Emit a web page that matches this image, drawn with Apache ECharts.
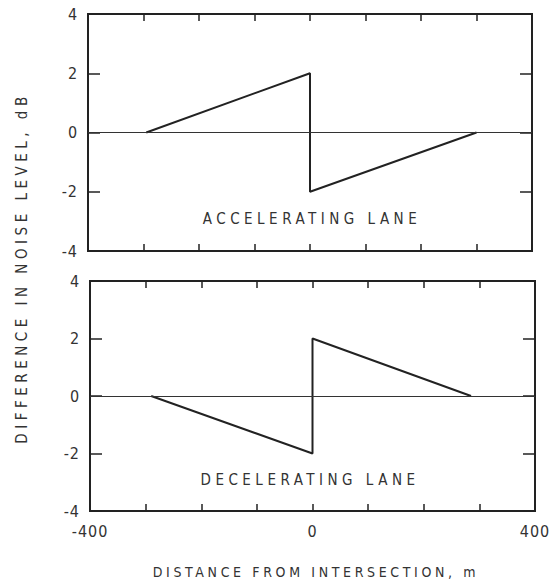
<!DOCTYPE html>
<html>
<head>
<meta charset="utf-8">
<script src="https://cdn.jsdelivr.net/npm/echarts@6/dist/echarts.min.js"></script>
<style>
  html, body { margin: 0; padding: 0; background: #fff; }
  #main { width: 552px; height: 586px; }
  /* the original lettering is widely tracked */
  #main text { letter-spacing: 0.06em; }
  #main text[style*="15px"] { letter-spacing: 0.3em; }
  #main text[style*="14px"] { letter-spacing: 0.26em; }
</style>
</head>
<body>
<div id="main"></div>
<script>
// data
var accelX = [-295, 0, 0, 300];
var accelY = [0, 2, -2, 0];
var decelX = [-290, 0, 0, 285];
var decelY = [0, -2, 2, 0];
var xTicks = [-400, 0, 400];
var yTicks = [-4, -2, 0, 2, 4];

function zip(xs, ys) {
  var out = [];
  for (var i = 0; i < xs.length; i++) {
    out.push([xs[i], ys[i]]);
  }
  return out;
}

var ink = '#222';
var font = '"DejaVu Sans Condensed", "DejaVu Sans", sans-serif';

function xAxis(grid, pos, labels) {
  return {
    type: 'value', gridIndex: grid, position: pos,
    min: -400, max: 400, interval: 100,
    axisLine: { show: false, onZero: false },
    axisTick: { inside: true, length: 7, lineStyle: { color: ink, width: 1.5 } },
    splitLine: { show: false },
    axisLabel: {
      show: labels, margin: 12, color: '#333', fontSize: 16, fontFamily: font,
      formatter: function (v) { return xTicks.indexOf(v) >= 0 ? String(v) : ''; }
    }
  };
}

function yAxis(grid, pos, labels) {
  return {
    type: 'value', gridIndex: grid, position: pos,
    min: -4, max: 4, interval: 2,
    axisLine: { show: false, onZero: false },
    axisTick: { inside: true, length: 12, lineStyle: { color: ink, width: 1.5 } },
    splitLine: { show: false },
    axisLabel: {
      show: labels, margin: 10, color: '#333', fontSize: 16, fontFamily: font,
      formatter: function (v) { return yTicks.indexOf(v) >= 0 ? String(v) : ''; }
    }
  };
}

function lane(xs, ys, idx) {
  return {
    type: 'line', xAxisIndex: idx * 2, yAxisIndex: idx * 2,
    data: zip(xs, ys),
    showSymbol: false,
    lineStyle: { color: ink, width: 2 },
    markLine: {
      silent: true, symbol: ['none', 'none'], label: { show: false },
      lineStyle: { color: '#333', width: 1, type: 'solid' },
      data: [{ yAxis: 0 }]
    }
  };
}

var myChart = echarts.init(document.getElementById('main'), null, { renderer: 'svg' });

var option = {
  backgroundColor: '#fff',
  animation: false,
  grid: [
    { left: 88, right: 20, top: 14, height: 237, show: true, borderColor: ink, borderWidth: 2 },
    { left: 90, right: 17, top: 281, height: 230, show: true, borderColor: ink, borderWidth: 2 }
  ],
  xAxis: [
    xAxis(0, 'bottom', false), xAxis(0, 'top', false),
    xAxis(1, 'bottom', true), xAxis(1, 'top', false)
  ],
  yAxis: [
    yAxis(0, 'left', true), yAxis(0, 'right', false),
    yAxis(1, 'left', true), yAxis(1, 'right', false)
  ],
  series: [lane(accelX, accelY, 0), lane(decelX, decelY, 1)],
  graphic: [
    { type: 'text', x: 312, y: 219, style: { text: 'ACCELERATING LANE', fill: '#333', font: '15px ' + font, textAlign: 'center', textVerticalAlign: 'middle' } },
    { type: 'text', x: 310, y: 480, style: { text: 'DECELERATING LANE', fill: '#333', font: '15px ' + font, textAlign: 'center', textVerticalAlign: 'middle' } },
    { type: 'text', x: 316, y: 572, style: { text: 'DISTANCE FROM INTERSECTION, m', fill: '#333', font: '14px ' + font, textAlign: 'center', textVerticalAlign: 'middle' } },
    { type: 'text', x: 22, y: 268, rotation: Math.PI / 2, style: { text: 'DIFFERENCE IN NOISE LEVEL, dB', fill: '#333', font: '15px ' + font, textAlign: 'center', textVerticalAlign: 'middle' } }
  ]
};
myChart.setOption(option);
</script>
</body>
</html>
